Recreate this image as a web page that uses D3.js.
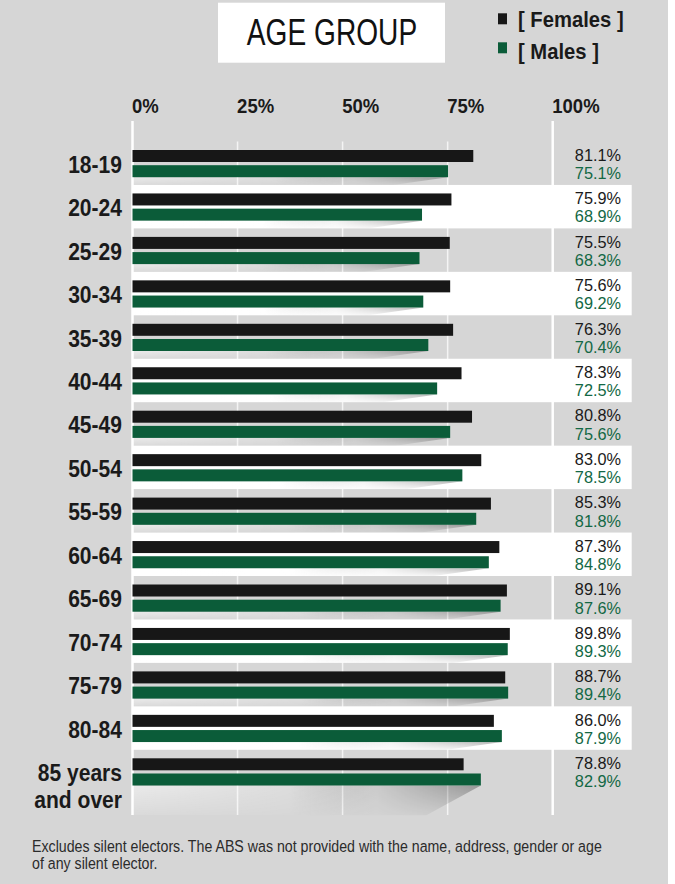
<!DOCTYPE html>
<html><head><meta charset="utf-8">
<script src="https://cdn.jsdelivr.net/npm/d3@7"></script>
<style>
html,body{margin:0;padding:0;background:#fff;}
svg{display:block;}
</style></head>
<body>
<script>
const categories = ["18-19","20-24","25-29","30-34","35-39","40-44","45-49","50-54","55-59","60-64","65-69","70-74","75-79","80-84","85 years\nand over"];
const females = [81.1,75.9,75.5,75.6,76.3,78.3,80.8,83.0,85.3,87.3,89.1,89.8,88.7,86.0,78.8];
const males   = [75.1,68.9,68.3,69.2,70.4,72.5,75.6,78.5,81.8,84.8,87.6,89.3,89.4,87.9,82.9];
const seriesNames = ["Females","Males"];
const legendLabels = ["[ Females ]","[ Males ]"];
const tickValues = [0,25,50,75,100];
const tickLabels = ["0%","25%","50%","75%","100%"];
const title = "AGE GROUP";
const footnote = ["Excludes silent electors. The ABS was not provided with the name, address, gender or age","of any silent elector."];

const W = 675, H = 884;
const SANS = "'Liberation Sans',Arial,sans-serif";
const C = {bg:"#d6d6d6", black:"#171717", green:"#0b5c39", greenText:"#136845", text:"#1a1a1a"};
const colors = {Females:C.black, Males:C.green};
const textColors = {Females:C.text, Males:C.greenText};

const svg = d3.select("body").append("svg").attr("width", W).attr("height", H);
svg.append("rect").attr("width", 668).attr("height", H).attr("fill", C.bg);

const x = d3.scaleLinear().domain([0, 100]).range([132.5, 552.7]);
const y = d3.scaleBand().domain(categories).range([141.5, 141.5 + 43.45 * categories.length]).padding(0);
const inner = d3.scaleBand().domain(seriesNames).range([8.5, 35.7]).paddingInner(0.21);
const bw = inner.bandwidth();

const rows = categories.map((c, i) => ({c, i, Females: females[i], Males: males[i]}));

// condensed text helper: horizontally scaled about its anchor point
function ctext(g, tx, ty, sx) {
  return g.append("text").attr("transform", `translate(${tx},${ty}) scale(${sx},1)`);
}

// defs
const defs = svg.append("defs");
const sg = defs.append("linearGradient").attr("id", "shadowGrad").attr("x1", 0).attr("x2", 1).attr("y1", 0).attr("y2", 0);
[[0, "#ffffff", 0.5], [0.45, "#ffffff", 0.18], [0.7, "#000000", 0.05], [1, "#000000", 0.3]].forEach(s =>
  sg.append("stop").attr("offset", s[0]).attr("stop-color", s[1]).attr("stop-opacity", s[2]));
const mg = defs.append("linearGradient").attr("id", "fadeGrad").attr("x1", 0).attr("x2", 0).attr("y1", 0).attr("y2", 1);
mg.append("stop").attr("offset", 0).attr("stop-color", "#fff");
mg.append("stop").attr("offset", 1).attr("stop-color", "#333");
defs.append("mask").attr("id", "fadeMask").attr("maskContentUnits", "objectBoundingBox")
  .append("rect").attr("width", 1).attr("height", 1).attr("fill", "url(#fadeGrad)");

const yTop = 121, yBot = 815;

// inner gridlines
svg.append("g").selectAll("line").data(tickValues.filter(v => v > 0 && v < 100)).join("line")
  .attr("x1", d => x(d)).attr("x2", d => x(d))
  .attr("y1", y.range()[0]).attr("y2", yBot)
  .attr("stroke", "#f4f4f4").attr("stroke-width", 1.5);

// white bands on alternate rows
svg.append("g").selectAll("rect").data(rows.filter(r => r.i % 2 === 1)).join("rect")
  .attr("x", x(0)).attr("width", x(100) + 79 - x(0))
  .attr("y", d => y(d.c)).attr("height", y.bandwidth())
  .attr("fill", "#ffffff");

// 0% and 100% lines
svg.append("g").selectAll("line").data([0, 100]).join("line")
  .attr("x1", d => x(d)).attr("x2", d => x(d))
  .attr("y1", yTop).attr("y2", yBot)
  .attr("stroke", "#ffffff").attr("stroke-width", 2.5);

// shadows below bars
const last = categories[categories.length - 1];
svg.append("g").selectAll("path").data(rows).join("path")
  .attr("d", d => {
    const gb = y(d.c) + inner("Males") + bw;
    const h = d.c === last ? 30 : y.bandwidth() - (inner("Males") + bw);
    const xe = x(d.Males);
    return `M${x(0)},${gb}L${xe},${gb}L${xe - 55},${gb + h}L${x(0)},${gb + h}Z`;
  })
  .attr("fill", "url(#shadowGrad)")
  .attr("mask", "url(#fadeMask)");

// bars
const barG = svg.append("g");
seriesNames.forEach(s => {
  barG.append("g").selectAll("rect").data(rows).join("rect")
    .attr("x", x(0)).attr("width", d => x(d[s]) - x(0))
    .attr("y", d => y(d.c) + inner(s)).attr("height", bw)
    .attr("fill", colors[s]);
});

// row labels
const rlG = svg.append("g");
rows.forEach(d => {
  d.c.split("\n").forEach((ln, k) => {
    ctext(rlG, 122, y(d.c) + y.bandwidth() / 2 + 9.5 + k * 26.6, 0.86)
      .attr("text-anchor", "end")
      .attr("font-family", SANS).attr("font-weight", "bold").attr("font-size", 24.5)
      .attr("fill", C.text).text(ln);
  });
});

// value labels
const valY = {Females: 19.2, Males: 37.5};
seriesNames.forEach(s => {
  svg.append("g").selectAll("text").data(rows).join("text")
    .attr("x", 621).attr("y", d => y(d.c) + valY[s])
    .attr("text-anchor", "end")
    .attr("font-family", SANS).attr("font-size", 16.3)
    .attr("fill", textColors[s])
    .text(d => d[s].toFixed(1) + "%");
});

// top axis
const axis = d3.axisTop(x).tickValues(tickValues).tickFormat((d, i) => tickLabels[i]).tickSize(0).tickPadding(0);
const ag = svg.append("g").attr("transform", "translate(0,113.3)").call(axis);
ag.select(".domain").remove();
ag.selectAll("text")
  .attr("text-anchor", "start").attr("dx", -1)
  .attr("transform", "scale(0.95,1)")
  .attr("font-family", SANS).attr("font-weight", "bold").attr("font-size", 19.5)
  .attr("fill", C.text);

// title
svg.append("rect").attr("x", 218).attr("y", 2.7).attr("width", 227).attr("height", 60).attr("fill", "#ffffff");
ctext(svg, 332, 45, 0.76).attr("text-anchor", "middle")
  .attr("font-family", SANS).attr("font-size", 37).attr("fill", "#111")
  .text(title);

// legend
const lg = svg.append("g");
seriesNames.forEach((s, i) => {
  lg.append("rect").attr("x", 498).attr("y", 13.3 + i * 29).attr("width", 9).attr("height", 11).attr("fill", colors[s]);
  ctext(lg, 518, 26.9 + i * 32.4, 0.92)
    .attr("font-family", SANS).attr("font-weight", "bold").attr("font-size", 22)
    .attr("fill", C.text).text(legendLabels[i]);
});

// footnote: condensed to span the reference width
const fg = svg.append("g");
const fn = footnote.map((t, i) => ctext(fg, 32, 851.7 + i * 17.6, 1)
  .attr("font-family", SANS).attr("font-size", 16.3).attr("fill", "#2b2b2b").text(t));
const natural = fn[0].node().getComputedTextLength();
const fsx = 570 / natural;
fn.forEach((t, i) => t.attr("transform", `translate(32,${851.7 + i * 17.6}) scale(${fsx},1)`));
</script>
</body></html>
